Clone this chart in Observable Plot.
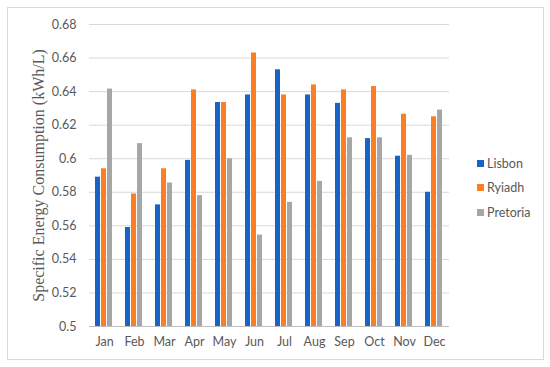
<!DOCTYPE html>
<html><head><meta charset="utf-8">
<script src="https://cdn.jsdelivr.net/npm/d3@7"></script>
<script src="https://cdn.jsdelivr.net/npm/@observablehq/plot@0.6"></script>
<style>
body{margin:0;background:#fff;}
#wrap{position:relative;width:550px;height:367px;font-family:Lato,"Open Sans",sans-serif;overflow:hidden;}
#frame{position:absolute;left:7px;top:7px;width:537px;height:353px;border:1px solid #d9d9d9;box-sizing:border-box;}
#chart{position:absolute;left:0;top:0;}
#legend{position:absolute;left:477px;top:151px;font-size:12.5px;color:#595959;}
#legend .row{display:flex;align-items:center;height:24.5px;}
#legend .sw{width:7px;height:7px;margin-right:3px;}
g[aria-label="y-axis label"] text{font-family:"Liberation Serif","DejaVu Serif",serif;font-size:16px;}
</style>
</head><body>
<div id="wrap"><div id="frame"></div><div id="chart"></div><div id="legend"></div></div>
<script>
const months = ["Jan","Feb","Mar","Apr","May","Jun","Jul","Aug","Sep","Oct","Nov","Dec"];
const series = ["Lisbon","Ryiadh","Pretoria"];
const lisbon   = [0.589,0.559,0.5725,0.599,0.6335,0.638,0.653,0.638,0.633,0.612,0.6015,0.580];
const ryiadh   = [0.594,0.579,0.594,0.641,0.6335,0.663,0.638,0.644,0.641,0.643,0.6265,0.625];
const pretoria = [0.6415,0.609,0.5855,0.578,0.600,0.5545,0.574,0.5865,0.6125,0.6125,0.602,0.629];
const yTicks = [0.5,0.52,0.54,0.56,0.58,0.6,0.62,0.64,0.66,0.68];
const colors = ["#1764c4","#fb7e23","#a6a6a6"];

const valuesBySeries = [lisbon, ryiadh, pretoria];
const data = months.flatMap((m, i) => series.map((s, j) => ({month: m, city: s, value: valuesBySeries[j][i]})));

const chart = Plot.plot({
  width: 550, height: 367,
  marginLeft: 85, marginRight: 97, marginTop: 24, marginBottom: 41,
  style: {fontFamily: "Lato, 'Open Sans', sans-serif", fontSize: "12.5px", color: "#595959", background: "transparent"},
  fx: {domain: months, padding: 0, label: null},
  x: {domain: series, paddingInner: 0.14, paddingOuter: 0.76, axis: null},
  y: {domain: [0.5, 0.68]},
  color: {domain: series, range: colors},
  marks: [
    Plot.gridY(yTicks, {stroke: "#d9d9d9", strokeOpacity: 1}),
    Plot.ruleY([0.5], {stroke: "#bfbfbf"}),
    Plot.barY(data, {fx: "month", x: "city", y1: 0.5, y2: "value", fill: "city"}),
    Plot.axisY(yTicks, {tickSize: 0, tickPadding: 13, tickFormat: d => String(+d.toFixed(2)),
      label: "Specific Energy Consumption (kWh/L)", labelAnchor: "center", labelOffset: 57, labelArrow: "none"}),
    Plot.axisFx({anchor: "bottom", tickSize: 0, tickPadding: 11, label: null})
  ]
});
document.getElementById("chart").appendChild(chart);

const legend = document.getElementById("legend");
series.forEach((s, j) => {
  const row = document.createElement("div");
  row.className = "row";
  row.innerHTML = `<div class="sw" style="background:${colors[j]}"></div><span>${s}</span>`;
  legend.appendChild(row);
});
</script>
</body></html>
